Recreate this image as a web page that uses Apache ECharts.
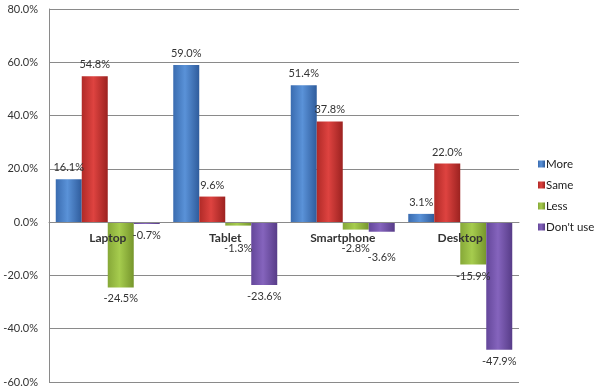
<!DOCTYPE html>
<html>
<head>
<meta charset="utf-8">
<script src="https://cdn.jsdelivr.net/npm/echarts@6/dist/echarts.min.js"></script>
<style>html,body{margin:0;padding:0;background:#fff}#c{width:600px;height:392px}</style>
</head>
<body>
<div id="c"></div>
<script>
var categories = ['Laptop', 'Tablet', 'Smartphone', 'Desktop'];
var seriesNames = ['More', 'Same', 'Less', "Don't use"];
var moreVals = [16.1, 59.0, 51.4, 3.1];
var sameVals = [54.8, 9.6, 37.8, 22.0];
var lessVals = [-24.5, -1.3, -2.8, -15.9];
var dontUseVals = [-0.7, -23.6, -3.6, -47.9];
var yTicks = [-60, -40, -20, 0, 20, 40, 60, 80];

var FONT = 'Lato, "Liberation Sans", sans-serif';
function grad(edgeL, mid, edgeR) {
  return new echarts.graphic.LinearGradient(0, 0, 1, 0, [
    {offset: 0, color: edgeL}, {offset: 0.45, color: mid}, {offset: 1, color: edgeR}
  ]);
}
var fills = [
  grad('#3a6cb0', '#5a92d8', '#2f5c9c'),
  grad('#b02a27', '#de4340', '#9c2220'),
  grad('#86a838', '#a6cc4e', '#76962c'),
  grad('#64479a', '#8564bd', '#573c88')
];
var legendColors = ['#4f81bd', '#c0504d', '#9bbb59', '#8064a2'];
var allVals = [moreVals, sameVals, lessVals, dontUseVals];
// extra label shifts (styling, keyed by series/category index) to mimic the reference layout
var extraShift = {'2-1': 11, '2-2': 7, '3-2': 14};

var GRID = {left: 49, right: 81, top: 9, bottom: 10};
var H = 392;
var yMin = yTicks[0], yMax = yTicks[yTicks.length - 1];
var plotH = H - GRID.top - GRID.bottom;
// move the category axis up to the zero line
var zeroOffset = -plotH * (0 - yMin) / (yMax - yMin);

var series = allVals.map(function (vals, si) {
  return {
    name: seriesNames[si],
    type: 'bar',
    barGap: '0%',
    barCategoryGap: '11.5%',
    itemStyle: {color: fills[si]},
    data: vals.map(function (v, ci) {
      var item = {value: v, label: {position: v >= 0 ? 'top' : 'bottom'}};
      var sh = extraShift[si + '-' + ci];
      if (sh) item.label.offset = [0, sh];
      return item;
    }),
    label: {
      show: true,
      distance: 6,
      fontFamily: FONT,
      fontSize: 11,
      color: '#333',
      formatter: function (p) { return p.value.toFixed(1) + '%'; }
    }
  };
});

var chart = echarts.init(document.getElementById('c'), null, {renderer: 'canvas'});
chart.setOption({
  animation: false,
  color: legendColors,
  grid: {left: GRID.left, right: GRID.right, top: GRID.top, bottom: GRID.bottom, containLabel: false},
  legend: {
    orient: 'vertical',
    left: 533,
    top: 153,
    itemWidth: 7,
    itemHeight: 7,
    itemGap: 9,
    icon: 'rect',
    data: seriesNames,
    textStyle: {fontFamily: FONT, fontSize: 11.5, color: '#222', padding: [0, 0, 0, -4]}
  },
  xAxis: [{
    type: 'category',
    data: categories,
    position: 'bottom',
    offset: zeroOffset,
    z: 10,
    axisLine: {onZero: false, lineStyle: {color: '#8a8a8a', width: 1}},
    axisTick: {show: false},
    axisLabel: {margin: 10, fontFamily: FONT, fontSize: 12, fontWeight: 'bold', color: '#333'}
  }],
  yAxis: {
    type: 'value',
    min: yMin,
    max: yMax,
    interval: yTicks[1] - yTicks[0],
    axisLine: {show: true, lineStyle: {color: '#8a8a8a'}},
    axisTick: {show: false},
    splitLine: {lineStyle: {color: '#8a8a8a', width: 1}},
    axisLabel: {
      margin: 11,
      fontFamily: FONT, fontSize: 11, color: '#333',
      formatter: function (v) { return v.toFixed(1) + '%'; }
    }
  },
  series: series
});
</script>
</body>
</html>
